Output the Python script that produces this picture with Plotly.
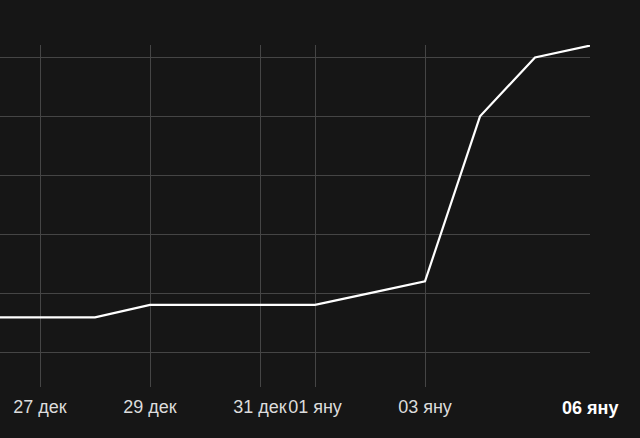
import plotly.graph_objects as go

dates = ["2023-12-26", "2023-12-27", "2023-12-28", "2023-12-29", "2023-12-30",
         "2023-12-31", "2024-01-01", "2024-01-02", "2024-01-03", "2024-01-04",
         "2024-01-05", "2024-01-06"]
values = [159, 159, 159, 180, 180, 180, 180, 200, 220, 500, 600, 620]

tick_vals = ["2023-12-27", "2023-12-29", "2023-12-31", "2024-01-01", "2024-01-03"]
tick_text = ["27 дек", "29 дек", "31 дек", "01 яну", "03 яну"]
last_label = "06 яну"
last_date = "2024-01-06"

fig = go.Figure()
fig.add_trace(go.Scatter(x=dates, y=values, mode="lines",
                         line=dict(color="#ffffff", width=2.2),
                         hoverinfo="skip"))

fig.update_layout(
    width=640, height=438,
    paper_bgcolor="#161616", plot_bgcolor="#161616",
    margin=dict(l=0, r=50, t=45, b=51, autoexpand=False),
    showlegend=False,
    font=dict(family="Liberation Sans, Arial, sans-serif", size=18, color="#dcdcdc"),
    xaxis=dict(
        range=["2023-12-26 06:32:43", "2024-01-06"],
        tickmode="array", tickvals=tick_vals, ticktext=tick_text,
        tickangle=0, automargin=False,
        showgrid=True, gridcolor="#454545", gridwidth=1,
        zeroline=False, showline=False, ticks="",
        ticklabelstandoff=7,
        tickfont=dict(size=18, color="#dcdcdc"),
    ),
    yaxis=dict(
        range=[40.7, 621],
        dtick=100, tick0=0, automargin=False,
        showgrid=True, gridcolor="#454545", gridwidth=1,
        zeroline=False, showline=False, showticklabels=False, ticks="",
    ),
    annotations=[dict(x=last_date, y=0, xref="x", yref="paper",
                      text="<b>" + last_label + "</b>", showarrow=False,
                      yanchor="top", yshift=-9,
                      font=dict(size=18, color="#ffffff"))],
)

fig.write_html("out.html", config={"displayModeBar": False},
               post_script="document.body.style.margin='0';document.body.style.background='#161616';")
